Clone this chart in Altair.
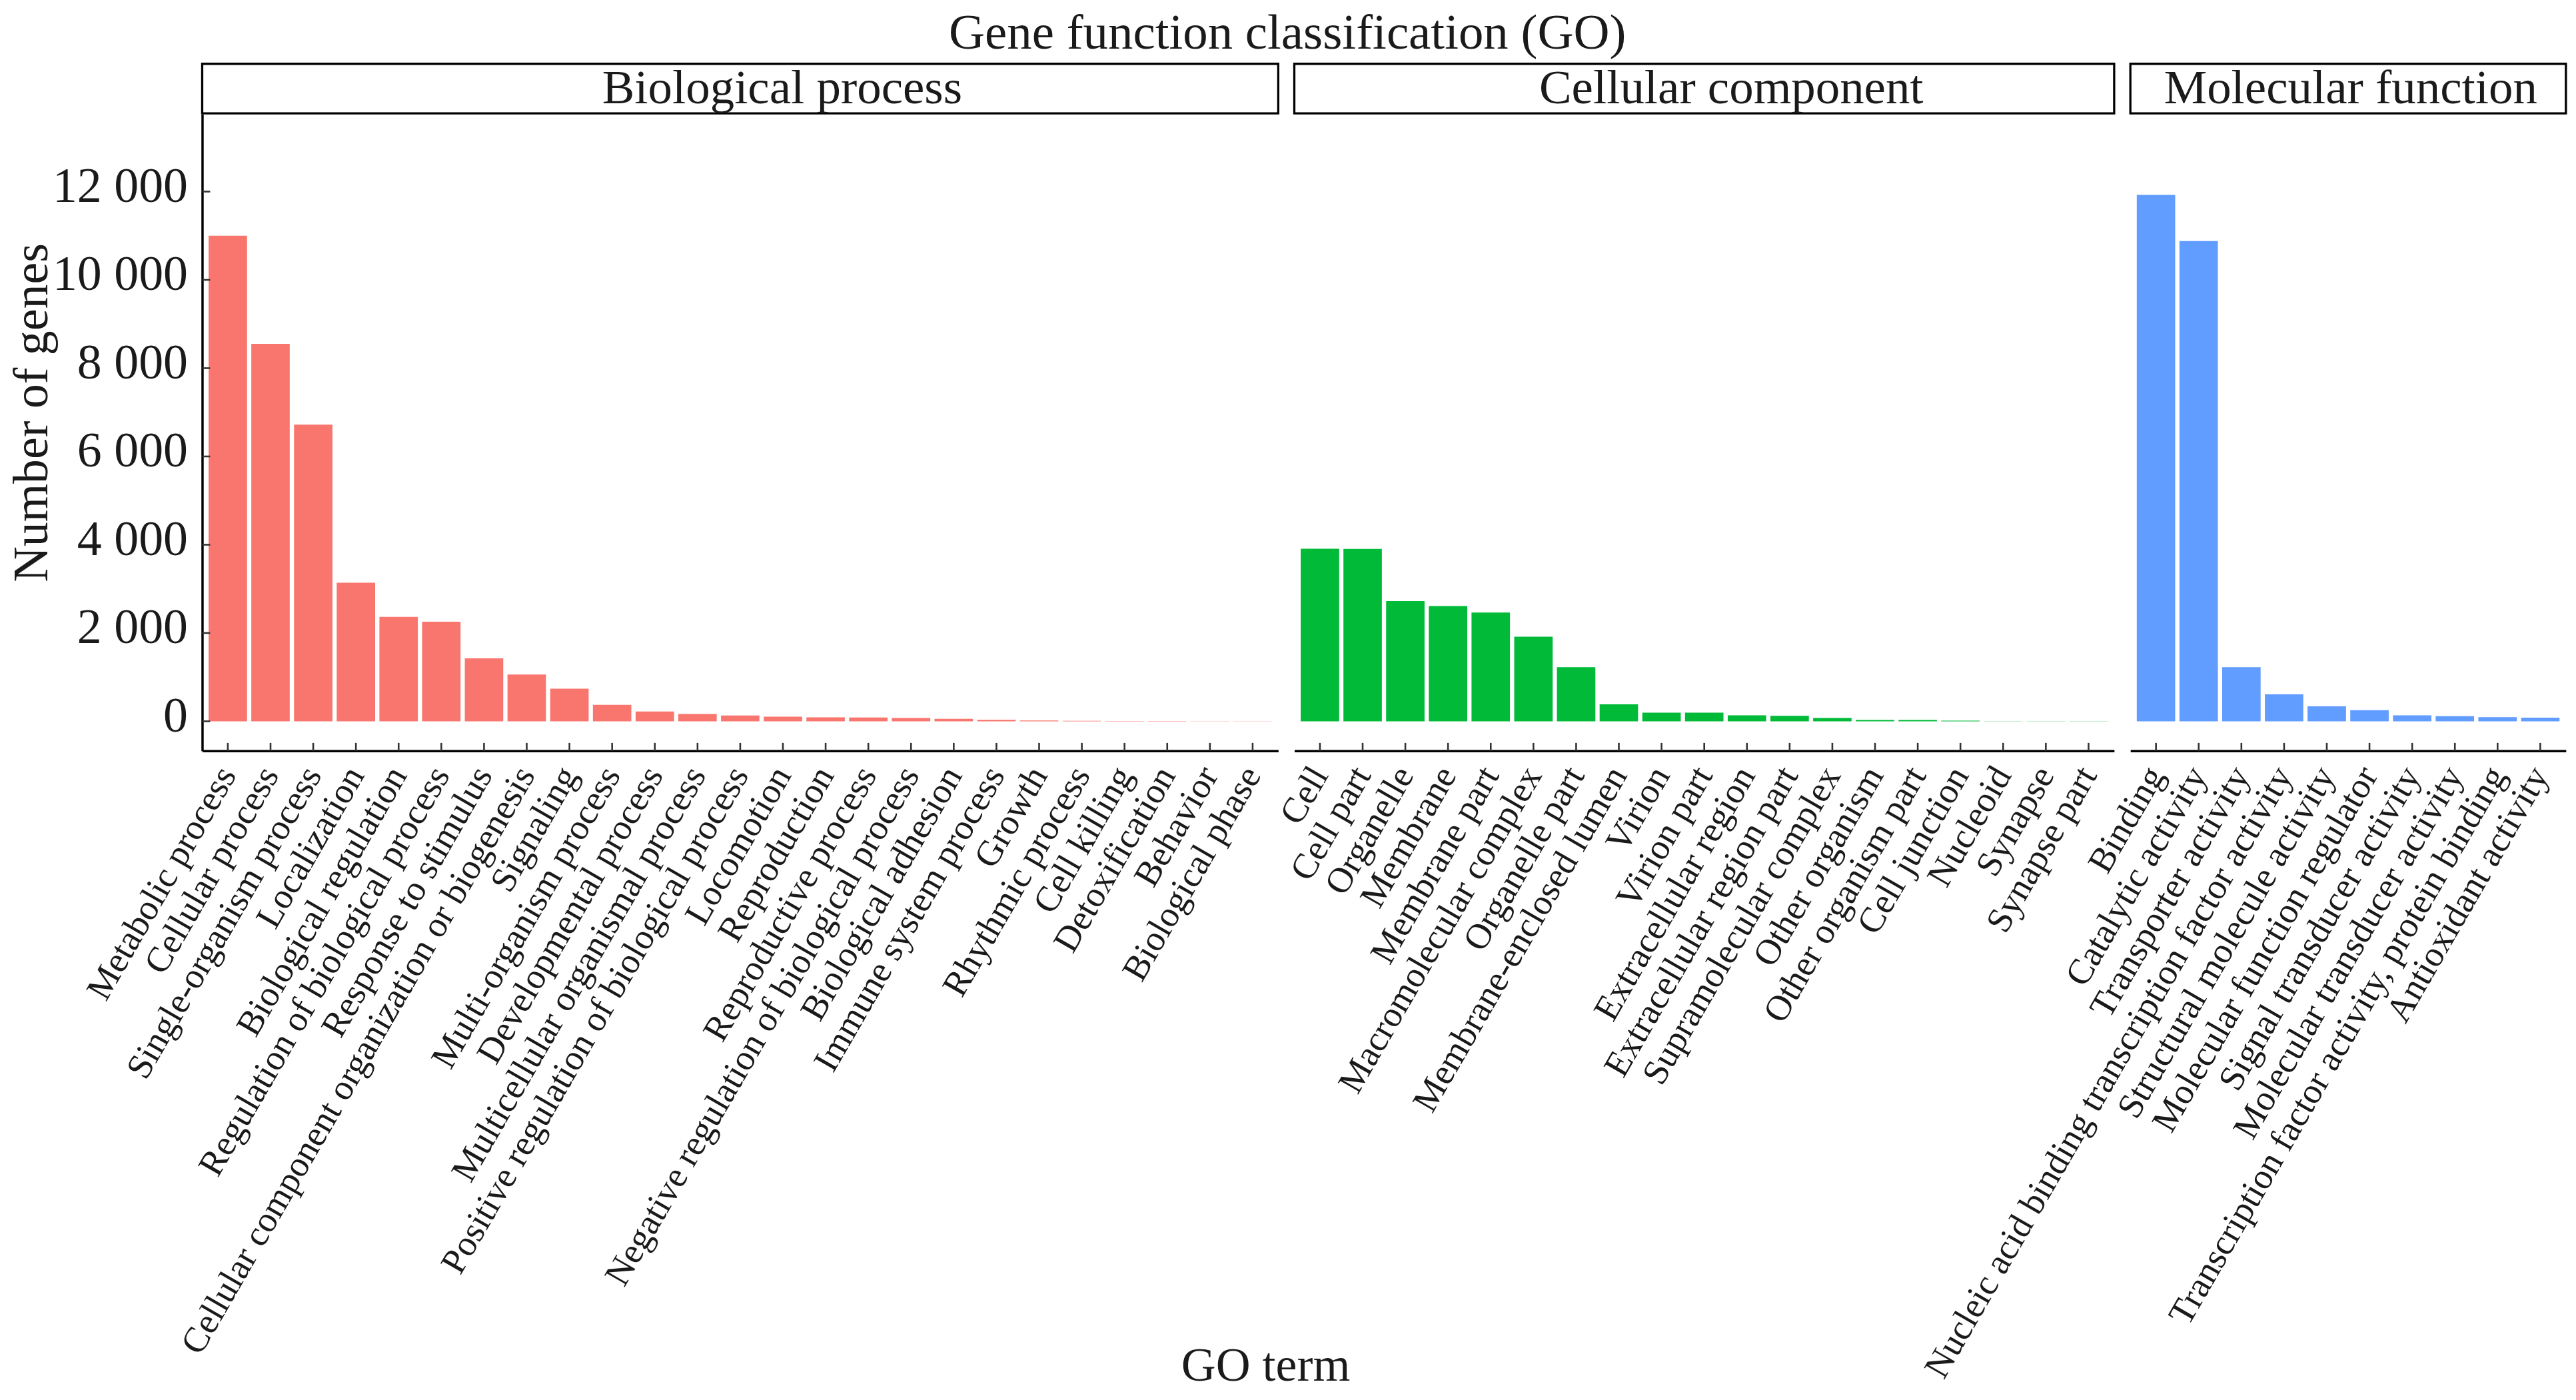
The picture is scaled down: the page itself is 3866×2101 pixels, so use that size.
import altair as alt
import pandas as pd

# ---------------------------------------------------------------------------
# Data
# ---------------------------------------------------------------------------

bp_terms = [
    "Metabolic process", "Cellular process", "Single-organism process",
    "Localization", "Biological regulation", "Regulation of biological process",
    "Response to stimulus", "Cellular component organization or biogenesis",
    "Signaling", "Multi-organism process", "Developmental process",
    "Multicellular organismal process", "Positive regulation of biological process",
    "Locomotion", "Reproduction", "Reproductive process",
    "Negative regulation of biological process", "Biological adhesion",
    "Immune system process", "Growth", "Rhythmic process", "Cell killing",
    "Detoxification", "Behavior", "Biological phase",
]
bp_counts = [11000, 8550, 6720, 3140, 2365, 2255, 1425, 1060, 740, 375, 222, 165,
             130, 105, 90, 85, 75, 55, 35, 20, 10, 8, 6, 3, 2]

cc_terms = [
    "Cell", "Cell part", "Organelle", "Membrane", "Membrane part",
    "Macromolecular complex", "Organelle part", "Membrane-enclosed lumen",
    "Virion", "Virion part", "Extracellular region", "Extracellular region part",
    "Supramolecular complex", "Other organism", "Other organism part",
    "Cell junction", "Nucleoid", "Synapse", "Synapse part",
]
cc_counts = [3910, 3905, 2725, 2610, 2465, 1915, 1225, 385, 195, 195, 135, 125,
             75, 30, 30, 15, 4, 3, 2]

mf_terms = [
    "Binding", "Catalytic activity", "Transporter activity",
    "Nucleic acid binding transcription factor activity",
    "Structural molecule activity", "Molecular function regulator",
    "Signal transducer activity", "Molecular transducer activity",
    "Transcription factor activity, protein binding", "Antioxidant activity",
]
mf_counts = [11925, 10880, 1225, 612, 338, 253, 137, 116, 95, 84]

y_ticks = [0, 2000, 4000, 6000, 8000, 10000, 12000]

# ---------------------------------------------------------------------------
# Style
# ---------------------------------------------------------------------------

FONT = "Liberation Serif"
INK = "#1a1a1a"
STEP = 64.2
PLOT_H = 957
Y_DOMAIN = [-670, 13750]
TICK_LEN = 12


def panel(name, terms, counts, color, strip_x, first=False, extra=None):
    n = len(terms)
    w = STEP * (n + 0.2)
    df = pd.DataFrame({"term": terms, "count": counts})

    x_axis = alt.Axis(
        labelAngle=-60, labelFontSize=54, labelFont=FONT, labelColor=INK,
        labelLimit=0, labelOverlap=False, labelPadding=28,
        ticks=False, tickSize=0, grid=False,
        domainColor="black", domainWidth=3.5, title=None,
    )
    x_scale = alt.Scale(paddingInner=0.1, paddingOuter=0.15)
    y_scale = alt.Scale(domain=Y_DOMAIN, nice=False, zero=False)

    if first:
        y_axis = alt.Axis(
            values=y_ticks,
            labelExpr="replace(format(datum.value, ','), ',', ' ')",
            labelFontSize=74, labelFont=FONT, labelColor=INK, labelPadding=22,
            labelOffset=-7, labelLimit=0,
            ticks=False, tickSize=0, grid=False,
            domainColor="black", domainWidth=3.5,
            titleFontSize=74, titleFont=FONT, titleFontWeight="normal",
            titleColor=INK, titleBaseline="alphabetic", titleX=-233, titleY=448,
        )
    else:
        y_axis = None

    bars = alt.Chart(df).mark_bar(color=color).encode(
        x=alt.X("term:N", sort=terms, scale=x_scale, axis=x_axis),
        y=alt.Y("count:Q", scale=y_scale, axis=y_axis, title="Number of genes"),
        y2=alt.datum(0),
    )

    # inward ticks along the bottom axis
    x_ticks = alt.Chart(df).mark_rule(color="#333333", strokeWidth=2.6).encode(
        x=alt.X("term:N", sort=terms),
        y=alt.value(PLOT_H - TICK_LEN),
        y2=alt.value(PLOT_H),
    )

    strip_df = pd.DataFrame({"panel": [name]})
    box = alt.Chart(strip_df).mark_rect(
        fill="white", stroke="black", strokeWidth=3.3
    ).encode(
        x=alt.value(0), x2=alt.value(w), y=alt.value(-76), y2=alt.value(-1.5)
    )
    strip_text = alt.Chart(strip_df).mark_text(
        font=FONT, fontSize=73, color=INK, baseline="alphabetic", align="center"
    ).encode(x=alt.value(strip_x), y=alt.value(-17), text="panel:N")

    layers = [bars, x_ticks, box, strip_text]

    if first:
        # inward ticks along the left axis
        yt = alt.Chart(pd.DataFrame({"v": y_ticks})).mark_rule(
            color="#333333", strokeWidth=2.6
        ).encode(
            y=alt.Y("v:Q", scale=y_scale, title="Number of genes"),
            x=alt.value(0),
            x2=alt.value(TICK_LEN),
        )
        layers.append(yt)

    if extra is not None:
        layers.append(extra)

    return alt.layer(*layers).properties(width=w, height=PLOT_H)


go_label = alt.Chart(pd.DataFrame({"t": ["GO term"]})).mark_text(
    font=FONT, fontSize=72, color=INK, baseline="alphabetic", align="center"
).encode(x=alt.value(-43), y=alt.value(1904), text="t:N")

bp = panel("Biological process", bp_terms, bp_counts, "#F8766D", 872, first=True)
cc = panel("Cellular component", cc_terms, cc_counts, "#00BA38", 657, extra=go_label)
mf = panel("Molecular function", mf_terms, mf_counts, "#619CFF", 331)

chart = (
    alt.hconcat(bp, cc, mf, spacing=24, bounds="flush")
    .resolve_scale(x="independent", y="independent")
    .properties(
        title=alt.TitleParams(
            "Gene function classification (GO)",
            font=FONT, fontSize=75, fontWeight="normal", color=INK,
            anchor="middle", offset=5,
        ),
        padding={"left": 3, "top": 3, "right": 5, "bottom": 0},
        background="white",
    )
    .configure_view(strokeWidth=0, stroke=None)
    .configure_axis(grid=False)
)

chart.save("out.html", embed_options={"renderer": "svg", "actions": False})
